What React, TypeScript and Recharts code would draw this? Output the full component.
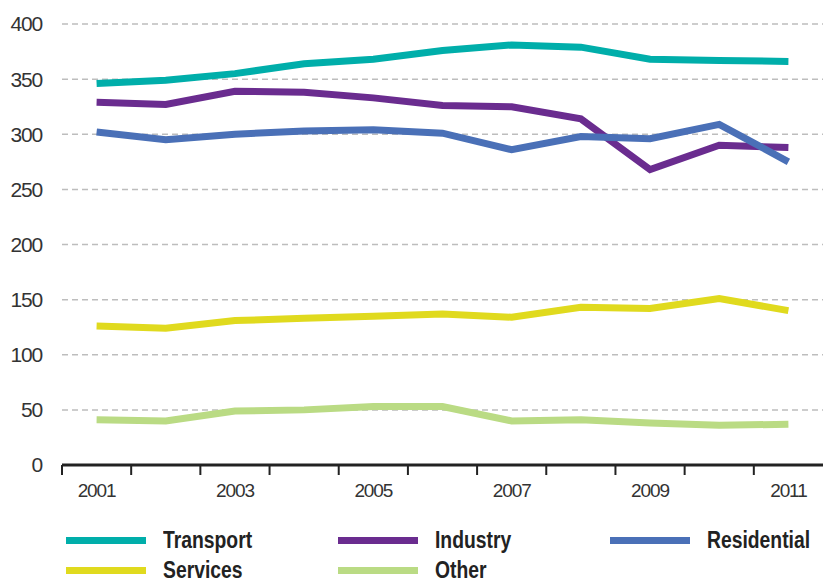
import { LineChart, Line, XAxis, YAxis, CartesianGrid, Legend } from 'recharts';

const YEARS = [2001, 2002, 2003, 2004, 2005, 2006, 2007, 2008, 2009, 2010, 2011];
const TRANSPORT = [346, 349, 355, 364, 368, 376, 381, 379, 368, 367, 366];
const INDUSTRY = [329, 327, 339, 338, 333, 326, 325, 314, 268, 290, 288];
const RESIDENTIAL = [302, 295, 300, 303, 304, 301, 286, 298, 296, 309, 275];
const SERVICES = [126, 124, 131, 133, 135, 137, 134, 143, 142, 151, 140];
const OTHER = [41, 40, 49, 50, 53, 53, 40, 41, 38, 36, 37];

const Y_TICKS = [0, 50, 100, 150, 200, 250, 300, 350, 400];
const YEAR_LABELS = [2001, 2003, 2005, 2007, 2009, 2011];
// tick marks sit on the boundaries between the years
const YEAR_EDGES = YEARS.map(y => y - 0.5);

const SERIES = [
  { key: 'Transport', color: '#00AEAA' },
  { key: 'Industry', color: '#6A2C8F' },
  { key: 'Residential', color: '#4A70B7' },
  { key: 'Services', color: '#E0DA1E' },
  { key: 'Other', color: '#BADB84' },
];

const FONT = '"Liberation Sans", Arial, sans-serif';

const data = YEARS.map((year, i) => ({
  year,
  Transport: TRANSPORT[i],
  Industry: INDUSTRY[i],
  Residential: RESIDENTIAL[i],
  Services: SERVICES[i],
  Other: OTHER[i],
}));

const LegendBox = () => (
  <div style={{ display: 'flex', flexWrap: 'wrap', width: 823, fontFamily: FONT, textAlign: 'left' }}>
    {SERIES.map(s => (
      <div key={s.key} style={{ width: 272, height: 30, display: 'flex', alignItems: 'center', flexShrink: 0 }}>
        <span style={{ marginLeft: 66, width: 80, height: 7, background: s.color, display: 'inline-block', flexShrink: 0 }} />
        <span
          style={{
            marginLeft: 17,
            fontSize: 23,
            lineHeight: 1,
            fontWeight: 'bold',
            color: '#222',
            whiteSpace: 'nowrap',
            display: 'inline-block',
            transform: 'scaleX(0.84)',
            transformOrigin: 'left center',
          }}
        >
          {s.key}
        </span>
      </div>
    ))}
  </div>
);

const App = () => (
  <div style={{ position: 'absolute', left: 0, top: 0, background: '#fff' }}>
    <LineChart width={823} height={582} data={data} margin={{ top: 24, right: 0, left: 0, bottom: 76 }}>
      <CartesianGrid xAxisId="lbl" vertical={false} stroke="#bdbdbd" strokeDasharray="6 4" strokeWidth={1.5} />
      <XAxis
        xAxisId="edges"
        type="number"
        dataKey="year"
        domain={[2000.5, 2011.5]}
        ticks={YEAR_EDGES}
        interval={0}
        height={11}
        tickSize={10}
        tickFormatter={() => ''}
        axisLine={{ stroke: '#222', strokeWidth: 3 }}
        tickLine={{ stroke: '#222', strokeWidth: 2 }}
      />
      <XAxis
        xAxisId="lbl"
        type="number"
        dataKey="year"
        domain={[2000.5, 2011.5]}
        ticks={YEAR_LABELS}
        interval={0}
        height={30}
        axisLine={false}
        tickLine={false}
        tick={{ fontSize: 19, fill: '#333', fontFamily: FONT, letterSpacing: -1.1 }}
      />
      <YAxis
        domain={[0, 400]}
        ticks={Y_TICKS}
        interval={0}
        width={62}
        axisLine={false}
        tickLine={false}
        tickMargin={14}
        tick={{ fontSize: 21, fill: '#333', fontFamily: FONT, letterSpacing: -1.2 }}
      />
      <Legend
        layout="horizontal"
        verticalAlign="middle"
        content={<LegendBox />}
        wrapperStyle={{ left: 0, top: 525, width: 823 }}
      />
      {SERIES.map(s => (
        <Line
          key={s.key}
          xAxisId="lbl"
          type="linear"
          dataKey={s.key}
          stroke={s.color}
          strokeWidth={7}
          dot={false}
          activeDot={false}
          isAnimationActive={false}
        />
      ))}
    </LineChart>
  </div>
);

export default App;
